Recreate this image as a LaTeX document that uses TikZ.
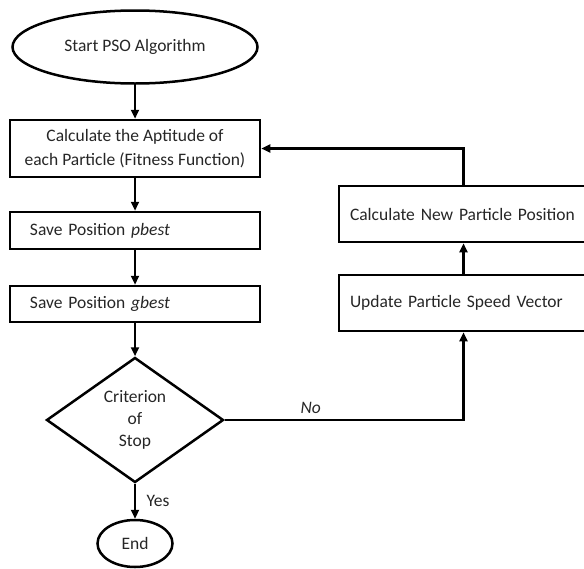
\documentclass[tikz,border=0pt]{standalone}
\usepackage{fontspec}
\setmainfont{Carlito}
\usetikzlibrary{shapes.geometric, arrows.meta, positioning}

\begin{document}
\begin{tikzpicture}[x=1pt,y=-1pt,->,>={Triangle[length=9pt,width=8pt]},line width=2.5pt,
                    font=\fontsize{17.5}{24}\selectfont,text=black!85]
                \tikzstyle{terminal}=[ellipse,draw=black,line width=2.5pt,inner sep=0pt]
                \tikzstyle{process}=[rectangle,draw=black,line width=2.5pt,inner sep=0pt,minimum width=250]
                \tikzstyle{decision}=[diamond,draw=black,line width=2.5pt,inner sep=0pt,aspect=1.4,
                                      minimum width=177,minimum height=125,align=center,
                                      font=\fontsize{17.5}{22}\selectfont]
                \useasboundingbox (0,0) rectangle (584,568);

                \node[terminal, minimum width=245, minimum height=73]  (start)  at (135,47)    {Start PSO Algorithm};
                \node[process, minimum height=57, align=center]         (calc)   at (135,148.5) {Calculate the Aptitude of\\each Particle (Fitness Function)};
                \node[process, minimum height=37, text width=210, align=left] (pbest) at (135,230.5) {Save Position \textit{pbest}};
                \node[process, minimum height=36, text width=210, align=left] (gbest) at (135,304)   {Save Position \textit{gbest}};
                \node[decision]                                         (crit)   at (135,420)   {Criterion\\of\\Stop};
                \node[terminal, minimum width=75, minimum height=47]    (stop)   at (135,543.5) {End};
                \node[process, minimum width=249, minimum height=56, text width=227, align=left] (newpos) at (463.5,214) {Calculate New Particle Position};
                \node[process, minimum width=249, minimum height=56, text width=227, align=left] (speed)  at (463.5,303) {Update Particle Speed Vector};

                \path
                (start) edge                        (calc)
                (calc)  edge                        (pbest)
                (pbest) edge                        (gbest)
                (gbest) edge                        (crit)
                (crit)  edge node[right=7pt]{Yes}   (stop)
                (speed) edge                        (newpos);

                \draw (crit.east) -| node[pos=0.18, above=2pt]{\textit{No}} (speed.south);
                \draw (newpos.north) |- (calc.east);
            \end{tikzpicture}
\end{document}
